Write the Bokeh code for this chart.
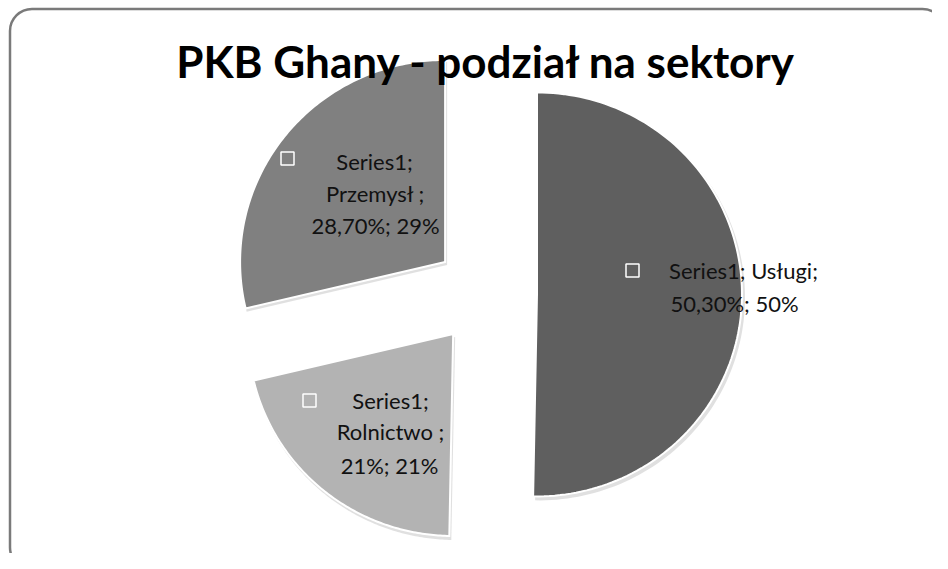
import math
from bokeh.plotting import figure
from bokeh.models import Range1d, BoxAnnotation
from bokeh.core.properties import value
from bokeh.embed import file_html
from bokeh.resources import INLINE

# ---- data ----
title_text = "PKB Ghany - podział na sektory"
series_name = "Series1"
categories = ["Usługi", "Rolnictwo", "Przemysł"]
shares = [50.3, 21.0, 28.7]
share_labels = ["50,30%", "21%", "28,70%"]
pct_labels = ["50%", "21%", "29%"]
colors = ["#5f5f5f", "#b3b3b3", "#808080"]

label_lines = [
    [f"{series_name}; {categories[0]};", f"{share_labels[0]}; {pct_labels[0]}"],
    [f"{series_name};", f"{categories[1]} ;", f"{share_labels[1]}; {pct_labels[1]}"],
    [f"{series_name};", f"{categories[2]} ;", f"{share_labels[2]}; {pct_labels[2]}"],
]

# ---- layout ----
W, H = 932, 553
CX, CY = 485, 259.6    # pie centre
RX, RY = 205, 202      # radii (slightly elliptical, like the original)
EXPLODE = 51.5         # explosion distance

label_pos = [
    {"lines": [(743, 283), (734, 250)], "marker": (632, 283)},
    {"lines": [(390, 153), (390, 122), (389, 88)], "marker": (309, 153)},
    {"lines": [(374, 392), (375, 360), (375, 328)], "marker": (287, 395)},
]

p = figure(width=W, height=H, output_backend="svg", toolbar_location=None,
           x_range=Range1d(0, W), y_range=Range1d(0, H), min_border=0,
           background_fill_color="white", border_fill_color="white")
p.axis.visible = False
p.grid.visible = False
p.outline_line_color = None

# chart-area rounded border
p.add_layout(BoxAnnotation(left=9.5, right=W + 12, bottom=-16, top=544.5,
                           fill_alpha=0, line_color="#7a7a7a", line_alpha=1.0,
                           line_width=2.5, border_radius=22))


def slice_points(f0, f1, ox, oy, rx, ry, n=120):
    xs, ys = [ox], [oy]
    for k in range(n + 1):
        t = 2 * math.pi * (f0 + (f1 - f0) * k / n)  # clockwise from north
        xs.append(ox + rx * math.sin(t))
        ys.append(oy + ry * math.cos(t))
    return xs, ys


total = sum(shares)
cum = 0.0
for i, (cat, v, c) in enumerate(zip(categories, shares, colors)):
    f0 = cum / total
    f1 = (cum + v) / total
    cum += v
    tm = math.pi * (f0 + f1)
    ox = CX + EXPLODE * math.sin(tm)
    oy = CY + EXPLODE * math.cos(tm)
    sx, sy = slice_points(f0, f1, ox + 2, oy - 3, RX + 1, RY + 1)
    p.patch(sx, sy, fill_color="#cccccc", fill_alpha=0.6, line_color=None)
    xs, ys = slice_points(f0, f1, ox, oy, RX, RY)
    p.patch(xs, ys, fill_color=c, line_color="white", line_width=2,
            line_join="miter")

# labels
for i, lines in enumerate(label_lines):
    pos = label_pos[i]
    for (lx, ly), txt in zip(pos["lines"], lines):
        p.text(x=[lx], y=[ly], text=[txt], text_font=value("Lato"),
               text_font_size="22px", text_color="#111111",
               text_align="center", text_baseline="middle")
    mx, my = pos["marker"]
    p.scatter(x=[mx], y=[my], marker="square", size=13, fill_alpha=0,
              line_color="white", line_width=1.5)

# title
p.text(x=[486], y=[493], text=[title_text], text_font=value("Lato"),
       text_font_size="44px", text_font_style="bold", text_color="#000000",
       text_align="center", text_baseline="middle")

open("out.html", "w").write(file_html(p, INLINE))
